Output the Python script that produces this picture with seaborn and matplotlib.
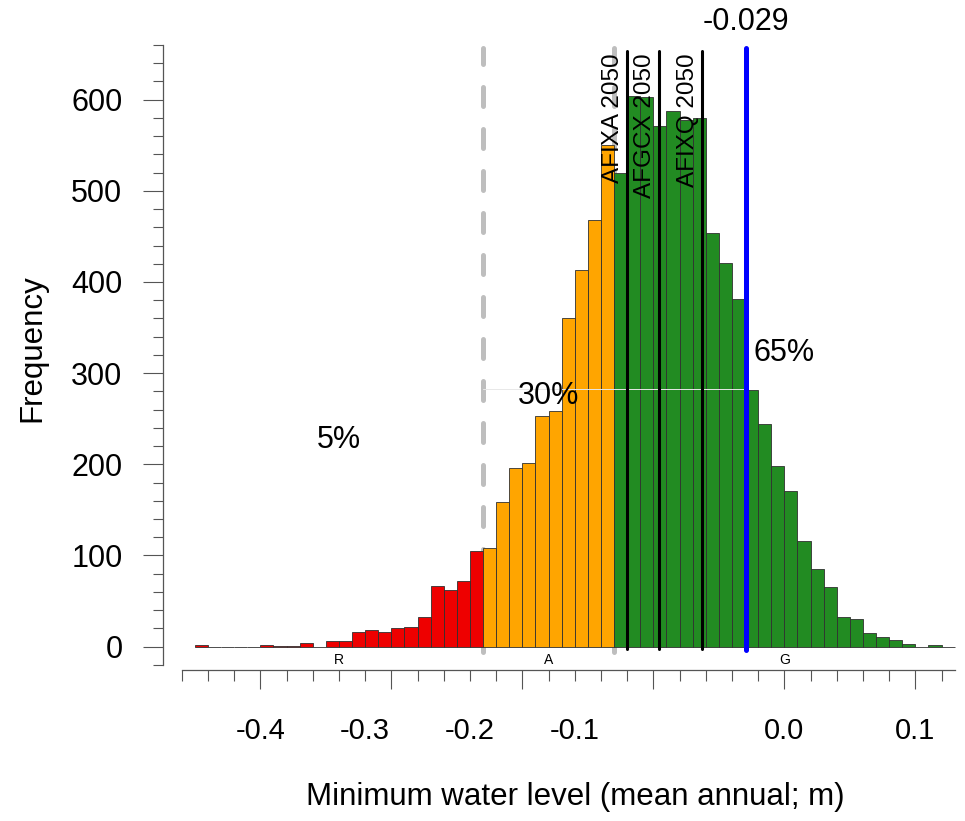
import numpy as np
import pandas as pd
import matplotlib
matplotlib.use("Agg")
import matplotlib.pyplot as plt
import matplotlib.transforms as mtransforms
import seaborn as sns

# ---------------- data ----------------
BIN_WIDTH = 0.01
red_start, orange_start, green_start, green_end = -0.45, -0.23, -0.13, 0.13
red_counts = [2, 0, 0, 0, 0, 2, 1, 1, 4, 0, 6, 6, 16, 18, 16, 21, 22, 33, 66, 62, 72, 105]
orange_counts = [108, 159, 196, 201, 253, 258, 360, 413, 468, 550]
green_counts = [519, 604, 603, 571, 588, 578, 580, 454, 421, 381, 281, 244, 198,
                171, 116, 85, 65, 33, 30, 15, 11, 7, 3, 0, 2, 0]

zone_letters = ["R", "A", "G"]
zone_pcts = ["5%", "30%", "65%"]
zone_pct_y = [227, 275, 322]
zone_colors = ["#EE0000", "#FFA500", "#228B22"]

scenario_names = ["AFIXA 2050", "AFGCX 2050", "AFIXQ 2050"]
scenario_x = [-0.120, -0.096, -0.063]
median_value = -0.029
guide_level = 283

xtick_major = [-0.4, -0.3, -0.2, -0.1, 0.0, 0.1]
xtick_labels = ["-0.4", "-0.3", "-0.2", "-0.1", "0.0", "0.1"]
xtick_label_pos = [-0.4, -0.32, -0.24, -0.16, 0.0, 0.1]
ytick_major = [0, 100, 200, 300, 400, 500, 600]

# ---------------- style ----------------
sns.set_style("white")
plt.rcParams['font.family'] = ['Liberation Sans', 'DejaVu Sans']
plt.rcParams['text.color'] = 'black'
plt.rcParams['axes.labelcolor'] = 'black'
plt.rcParams['xtick.color'] = 'black'
plt.rcParams['ytick.color'] = 'black'

fig = plt.figure(figsize=(9.65, 8.21), dpi=100)
ax = fig.add_axes([0.16891, 0.18392, 0.82715, 0.79464])

def edges_for(start, n):
    return [float(v) for v in np.round(start + np.arange(n + 1) * BIN_WIDTH, 4)]

segments = [(red_start, red_counts, zone_colors[0]),
            (orange_start, orange_counts, zone_colors[1]),
            (green_start, green_counts, zone_colors[2])]
for start, counts, col in segments:
    edges = edges_for(start, len(counts))
    centers = [(a + b) / 2 for a, b in zip(edges[:-1], edges[1:])]
    df = pd.DataFrame({"level": centers, "n": counts})
    sns.histplot(data=df, x="level", weights="n", bins=edges, common_bins=False,
                 color=col, alpha=1, edgecolor="#303030", linewidth=0.6, ax=ax, zorder=2)

# zone boundaries (grey dashed, behind bars)
for b in [orange_start, green_start]:
    ax.plot([b, b], [-6, 657], color="#BEBEBE", lw=3.6, dashes=(3.8, 4.6),
            dash_capstyle="round", zorder=1)

# faint guide line
ax.plot([orange_start, median_value], [guide_level, guide_level], color="#E8E8E8",
        lw=0.7, zorder=2.5)

# scenario lines
for name, xv in zip(scenario_names, scenario_x):
    ax.plot([xv, xv], [-3, 653], color="black", lw=2.2, zorder=3)
    ax.text(xv - 0.0022, 651, name, rotation=90, ha="right", va="top",
            fontsize=17.5, zorder=5)

# median line
ax.plot([median_value, median_value], [-4, 657], color="#0000FF", lw=3.6, zorder=4)
ax.text(median_value, 685, f"{median_value:.3f}", ha="center", va="center",
        fontsize=22, clip_on=False)

# zone annotations
bounds = [red_start, orange_start, green_start, green_end]
for i in range(3):
    mid = (bounds[i] + bounds[i + 1]) / 2
    ax.text(mid, -14.6, zone_letters[i], ha="center", va="center", fontsize=10)
    ax.text(mid, zone_pct_y[i], zone_pcts[i], ha="center", va="center", fontsize=22)

# ---------------- axes ----------------
ax.set_xlim(-0.4743, 0.135)
ax.set_ylim(-25.6, 690)
for s in ["top", "right"]:
    ax.spines[s].set_visible(False)
for s in ["left", "bottom"]:
    ax.spines[s].set_color("#555555")
    ax.spines[s].set_linewidth(0.9)
ax.spines["left"].set_bounds(-20, 660)
ax.spines["bottom"].set_bounds(-0.46, 0.13)

ax.set_yticks(ytick_major)
ax.set_yticks(np.arange(-20, 661, 20), minor=True)
ax.set_yticklabels([str(v) for v in ytick_major])
ax.set_xticks(xtick_major)
ax.set_xticks(np.round(np.arange(-0.46, 0.121, 0.02), 2), minor=True)
ax.set_xticklabels([])
ax.tick_params(axis="y", which="major", length=14.2, width=0.8, color="#555555",
               labelsize=22, pad=15, direction="out", left=True, labelcolor="black")
ax.tick_params(axis="y", which="minor", length=7.2, width=0.8, color="#555555",
               direction="out", left=True)
ax.tick_params(axis="x", which="major", length=13.9, width=0.8, color="#555555",
               direction="out", bottom=True)
ax.tick_params(axis="x", which="minor", length=7.7, width=0.8, color="#555555",
               direction="out", bottom=True)

trans = mtransforms.blended_transform_factory(ax.transData, fig.transFigure)
for pos, lab in zip(xtick_label_pos, xtick_labels):
    ax.text(pos, 1 - 731 / 821, lab, transform=trans, ha="center", va="center",
            fontsize=21)

ax.set_ylabel("")
ax.set_xlabel("")
fig.text(575 / 965, 1 - 797 / 821, "Minimum water level (mean annual; m)",
         ha="center", va="center", fontsize=22.5)
fig.text(32 / 965, 1 - 348 / 821, "Frequency", rotation=90, ha="center",
         va="center", fontsize=22.5)

fig.savefig("out.png", dpi=100, facecolor="white")
